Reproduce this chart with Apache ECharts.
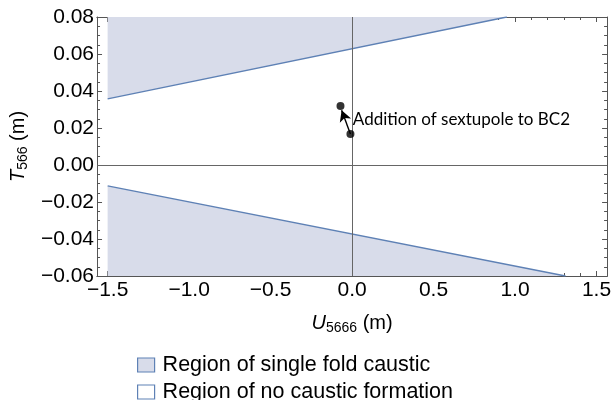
<!DOCTYPE html>
<html>
<head>
<meta charset="utf-8">
<script src="https://cdn.jsdelivr.net/npm/echarts@6/dist/echarts.min.js"></script>
<style>html,body{margin:0;padding:0;background:#fff}#c{width:614px;height:400px}</style>
</head>
<body>
<div id="c"></div>
<script>
// ---- data ----
const upperBoundary = [[-1.5, 0.0358], [0.95, 0.08]];   // edge of upper single-fold region
const lowerBoundary = [[-1.5, -0.0113], [1.31, -0.06]]; // edge of lower single-fold region
const dotPoints = [[-0.071, 0.0319], [-0.010, 0.0168]];
const arrowFrom = [-0.010, 0.0168];
const arrowTo = [-0.064, 0.0296];
const annotationText = 'Addition of sextupole to BC2';
const annotationAt = [0.005, 0.0248];
const xMajorTicks = [-1.5, -1.0, -0.5, 0.0, 0.5, 1.0, 1.5];
const xMinorTicks = [-1.4, -1.3, -1.2, -1.1, -0.9, -0.8, -0.7, -0.6, -0.4, -0.3, -0.2, -0.1,
                     0.1, 0.2, 0.3, 0.4, 0.6, 0.7, 0.8, 0.9, 1.1, 1.2, 1.3, 1.4];
const xRange = [-1.565, 1.565];
const yRange = [-0.06, 0.08];
const yInterval = 0.02;
const legendNames = ['Region of single fold caustic', 'Region of no caustic formation'];

const LINE = '#5E81B5', FILL = '#d8dcea', FRAME = '#555', ZERO = '#666';
const tickFont = {fontFamily: 'Liberation Sans, Arial, sans-serif', fontSize: 21, color: '#000'};
const minus = v => (v < 0 ? '\u2212' : '');

function xAxisDef(pos, ticks, len, labels) {
  return {
    type: 'value', position: pos, min: xRange[0], max: xRange[1],
    axisLine: {show: true, onZero: false, lineStyle: {color: FRAME, width: 1}},
    axisTick: {show: true, inside: true, length: len, customValues: ticks, lineStyle: {color: FRAME}},
    axisLabel: labels ? Object.assign({show: true, customValues: ticks, margin: 4,
      formatter: v => minus(v) + Math.abs(v).toFixed(1)}, tickFont) : {show: false},
    splitLine: {show: false}
  };
}
function yAxisDef(pos, labels) {
  return {
    type: 'value', position: pos, min: yRange[0], max: yRange[1], interval: yInterval,
    axisLine: {show: true, onZero: false, lineStyle: {color: FRAME, width: 1}},
    axisTick: {show: true, inside: true, length: 5, lineStyle: {color: FRAME}},
    minorTick: {show: true, splitNumber: 4, length: 3, lineStyle: {color: FRAME}},
    axisLabel: labels ? Object.assign({show: true, margin: 3,
      formatter: v => minus(v) + Math.abs(v).toFixed(2)}, tickFont) : {show: false},
    splitLine: {show: false}
  };
}

const xa = [
  xAxisDef('bottom', xMajorTicks, 5, true),
  xAxisDef('bottom', xMinorTicks, 3, false),
  xAxisDef('top', xMajorTicks, 5, false),
  xAxisDef('top', xMinorTicks, 3, false)
];
const nameRich = {rich: {
  i: {fontFamily: 'Liberation Sans', fontStyle: 'italic', fontSize: 20, color: '#000'},
  s: {fontFamily: 'Liberation Sans', fontSize: 14, color: '#000', verticalAlign: 'bottom', padding: [10, 0, 0, 0]},
  n: {fontFamily: 'Liberation Sans', fontSize: 20, color: '#000'}
}};
xa[0].name = '{i|U}{s|5666}{n| (m)}';
xa[0].nameLocation = 'middle';
xa[0].nameGap = 35;
xa[0].nameTextStyle = nameRich;
const ya = [yAxisDef('left', true), yAxisDef('right', false)];
ya[0].name = '{i|T}{s|566}{n| (m)}';
ya[0].nameLocation = 'middle';
ya[0].nameGap = 56;
ya[0].nameRotate = 90;
ya[0].nameTextStyle = nameRich;

const chart = echarts.init(document.getElementById('c'));
chart.setOption({
  animation: false,
  grid: {left: 93, right: 6, top: 17, bottom: 124, containLabel: false},
  xAxis: xa,
  yAxis: ya,
  legend: {
    orient: 'vertical', left: 137, top: 354, height: 60, padding: 0,
    itemWidth: 17, itemHeight: 14, itemGap: 5,
    icon: 'rect',
    textStyle: {fontFamily: 'Liberation Sans, Arial', fontSize: 21.5, lineHeight: 22, color: '#000', padding: [0, 0, 0, 3]},
    data: [
      {name: legendNames[0], itemStyle: {color: FILL, borderColor: LINE, borderWidth: 1.2}},
      {name: legendNames[1], itemStyle: {color: '#fff', borderColor: LINE, borderWidth: 1.2}}
    ]
  },
  series: [
    {
      name: legendNames[0], type: 'line', data: upperBoundary, symbol: 'none',
      lineStyle: {color: LINE, width: 1.3}, itemStyle: {color: FILL},
      areaStyle: {color: FILL, opacity: 1, origin: 'end'}, z: 2
    },
    {
      name: legendNames[0], type: 'line', data: lowerBoundary, symbol: 'none',
      lineStyle: {color: LINE, width: 1.3}, itemStyle: {color: FILL},
      areaStyle: {color: FILL, opacity: 1, origin: 'start'}, z: 2,
      markLine: {
        silent: true, symbol: 'none', label: {show: false},
        lineStyle: {color: ZERO, width: 1, type: 'solid'},
        data: [{xAxis: 0}, {yAxis: 0}]
      }
    },
    {
      name: legendNames[1], type: 'line', data: [], symbol: 'none',
      itemStyle: {color: '#fff'}
    },
    {
      type: 'scatter', data: dotPoints, symbolSize: 8, itemStyle: {color: '#000'}, z: 5,
      markLine: {
        silent: true, symbol: ['none', 'arrow'], symbolSize: [9, 11], label: {show: false},
        lineStyle: {color: '#000', width: 1.4, type: 'solid'},
        data: [[{coord: arrowFrom}, {coord: arrowTo}]]
      },
      markPoint: {
        symbol: 'circle', symbolSize: 0,
        data: [{coord: annotationAt, value: annotationText}],
        label: {show: true, position: 'right', distance: 0, formatter: annotationText,
          fontFamily: 'Lato', fontSize: 17, color: '#000'}
      }
    }
  ]
});
</script>
</body>
</html>
